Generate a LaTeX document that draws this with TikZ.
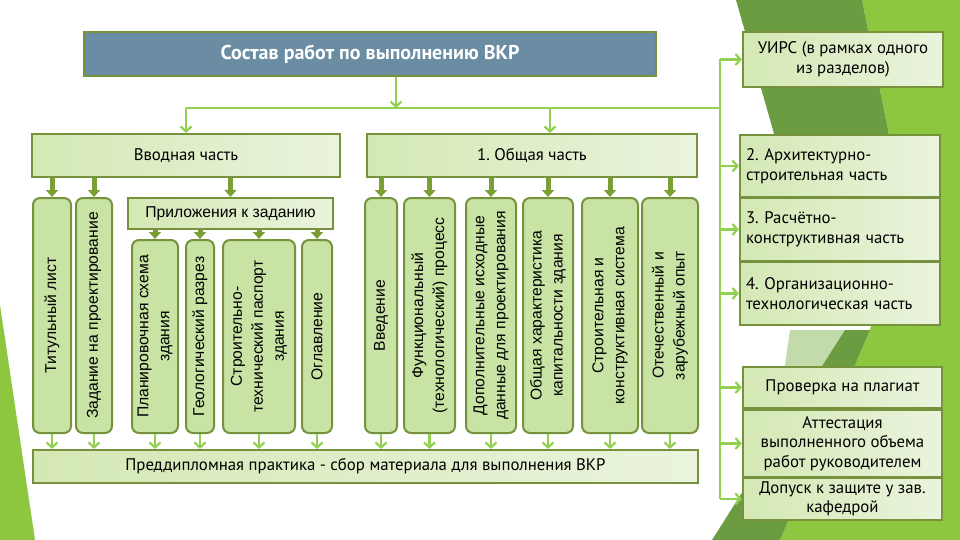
\documentclass[tikz,border=0pt]{standalone}
\usepackage{fontspec}
\setmainfont{PT Sans}
\newfontfamily\arialf{Liberation Sans}
\usetikzlibrary{arrows.meta}
\frenchspacing
\definecolor{olive}{HTML}{76923C}
\definecolor{lgreen}{HTML}{92D050}
\definecolor{titblue}{HTML}{6A8DA3}
\definecolor{vfill}{HTML}{C8E3A4}
\definecolor{hfillA}{HTML}{D4E8B4}
\definecolor{hfillB}{HTML}{EAF4DD}
\definecolor{bright}{HTML}{8DC63F}
\definecolor{darkg}{HTML}{6C9C42}
\definecolor{midg}{HTML}{7AAE45}
\definecolor{tarrow}{HTML}{7A9F35}
\tikzset{
  hbox/.style={draw=olive, line width=2.2pt, left color=hfillA, right color=hfillB, inner sep=0pt,
    font=\fontsize{16.8}{19.5}\selectfont, align=center},
  vbox/.style={draw=olive, line width=2pt, fill=vfill, rounded corners=7pt, inner sep=0pt, minimum height=235pt},
  sbox/.style={vbox, minimum height=193pt},
  vtext/.style={rotate=90, font=\arialf\fontsize{15.7}{21}\selectfont, align=center, inner sep=0pt},
  rbox/.style={hbox, minimum width=200pt},
  conn/.style={draw=lgreen, line width=2.5pt, -{Straight Barb[length=5pt,width=11pt,line width=2.2pt]}},
  trunk/.style={draw=lgreen, line width=2.5pt},
  tarr/.style={draw=tarrow, line width=5pt, -{Triangle[width=12pt,length=7pt]}},
}
\begin{document}
\begin{tikzpicture}[x=1pt,y=-1pt]
\useasboundingbox (0,0) rectangle (960,540);
% background facets
\fill[white] (0,0) rectangle (960,540);
\fill[bright] (0,305) -- (35,540) -- (0,540) -- cycle;
\fill[bright] (862,0) -- (960,0) -- (960,540) -- (780,540) -- (870,330) -- (900,190) -- cycle;
\fill[darkg] (736,0) -- (862,0) -- (900,190) -- (790,190) -- cycle;
\fill[midg!45!white] (790,330) -- (870,330) -- (780,540) -- (760,540) -- cycle;
\fill[darkg] (712,540) -- (780,540) -- (870,330) -- (845,330) -- cycle;

% title and top-level boxes
\node[draw=olive, line width=2.2pt, fill=titblue, minimum width=572pt, minimum height=44pt, inner sep=0pt,
      text=white, font=\bfseries\fontsize{20}{23}\selectfont] (title) at (370,54) {Состав работ по выполнению ВКР};
\node[hbox, minimum width=308pt, minimum height=43pt] (vvod) at (186,155.5) {Вводная часть};
\node[hbox, minimum width=330pt, minimum height=43pt] (obsh) at (532,155.5) {1. Общая часть};

% right column
\node[rbox, minimum height=55pt] (uirs) at (843,59.5) {УИРС (в рамках одного\\из разделов)};
\node[rbox, minimum height=62pt, align=left, text width=188pt] (arch) at (840,166) {2. Архитектурно-\\строительная часть};
\node[rbox, minimum height=64pt, align=left, text width=188pt] (rasch) at (840,229.5) {3. Расчётно-\\конструктивная часть};
\node[rbox, minimum height=63pt, align=left, text width=188pt] (org) at (840,293.5) {4. Организационно-\\технологическая часть};
\node[rbox, minimum width=199pt, minimum height=41pt] (plag) at (842.5,387.5) {Проверка на плагиат};
\node[rbox, minimum width=199pt, minimum height=67pt] (att) at (842.5,443.5) {Аттестация\\выполненного объема\\работ руководителем};
\node[rbox, minimum width=199pt, minimum height=42pt] (dop) at (842.5,499) {Допуск к защите у зав.\\кафедрой};

% bottom bar
\node[hbox, minimum width=665pt, minimum height=33pt] (prak) at (365.5,466.5) {Преддипломная практика - сбор материала для выполнения ВКР};

% Вводная part
\node[vbox, minimum width=38pt, label={[vtext]center:Титульный лист}] (tit) at (52,315.5) {};
\node[vbox, minimum width=36pt, label={[vtext]center:Задание на проектирование}] (zad) at (94,315.5) {};
\node[hbox, minimum width=205pt, minimum height=31pt, font=\arialf\fontsize{15.7}{19}\selectfont] (pril) at (230.5,213.5) {Приложения к заданию};
\node[sbox, minimum width=46pt, label={[vtext]center:Планировочная  схема\\здания}] (plan) at (155,336.5) {};
\node[sbox, minimum width=28pt, label={[vtext]center:Геологический разрез}] (geo) at (200,336.5) {};
\node[sbox, minimum width=72pt, label={[vtext]center:Строительно-\\технический паспорт\\здания}] (stp) at (259,336.5) {};
\node[sbox, minimum width=30pt, label={[vtext]center:Оглавление}] (ogl) at (317,336.5) {};

% Общая part
\node[vbox, minimum width=32pt, label={[vtext]center:Введение}] (vved) at (381,315.5) {};
\node[vbox, minimum width=51pt, label={[vtext]center:Функциональный\\(технологический) процесс}] (func) at (429.5,315.5) {};
\node[vbox, minimum width=50pt, label={[vtext]center:Дополнительные исходные\\данные для проектирования}] (dop2) at (491,315.5) {};
\node[vbox, minimum width=50pt, label={[vtext]center:Общая характеристика\\капитальности здания}] (obch) at (548,315.5) {};
\node[vbox, minimum width=56pt, label={[vtext]center:Строительная и\\конструктивная система}] (stroit) at (610,315.5) {};
\node[vbox, minimum width=56pt, label={[vtext]center:Отечественный и\\зарубежный опыт}] (otech) at (670,315.5) {};

% bus coordinates
\coordinate (busR) at (720,108);

% thin connectors
\draw[conn] ([xshift=26pt]title.south) -- ([xshift=26pt]title.south |- busR);
\draw[trunk] (vvod.north |- busR) -- (busR);
\draw[conn] (vvod.north |- busR) -- (vvod.north);
\draw[conn] ([xshift=18pt]obsh.north |- busR) -- ([xshift=18pt]obsh.north);
\draw[trunk] (busR |- uirs.west) -- (busR |- dop.west);
\foreach \n in {uirs,arch,rasch,org,plag,att,dop}
  \draw[conn] (busR |- \n.west) -- (\n.west);
\foreach \n in {tit,zad,plan,geo,stp,ogl,vved,func,dop2,obch,stroit,otech}
  \draw[conn] (\n.south) -- (\n.south |- prak.north);

% thick connectors
\foreach \n in {tit,zad,pril}
  \draw[tarr] (\n.north |- vvod.south) -- (\n.north);
\foreach \n in {plan,geo,stp,ogl}
  \draw[tarr] (\n.north |- pril.south) -- (\n.north);
\foreach \n in {vved,func,dop2,obch,stroit,otech}
  \draw[tarr] (\n.north |- obsh.south) -- (\n.north);
\end{tikzpicture}
\end{document}
